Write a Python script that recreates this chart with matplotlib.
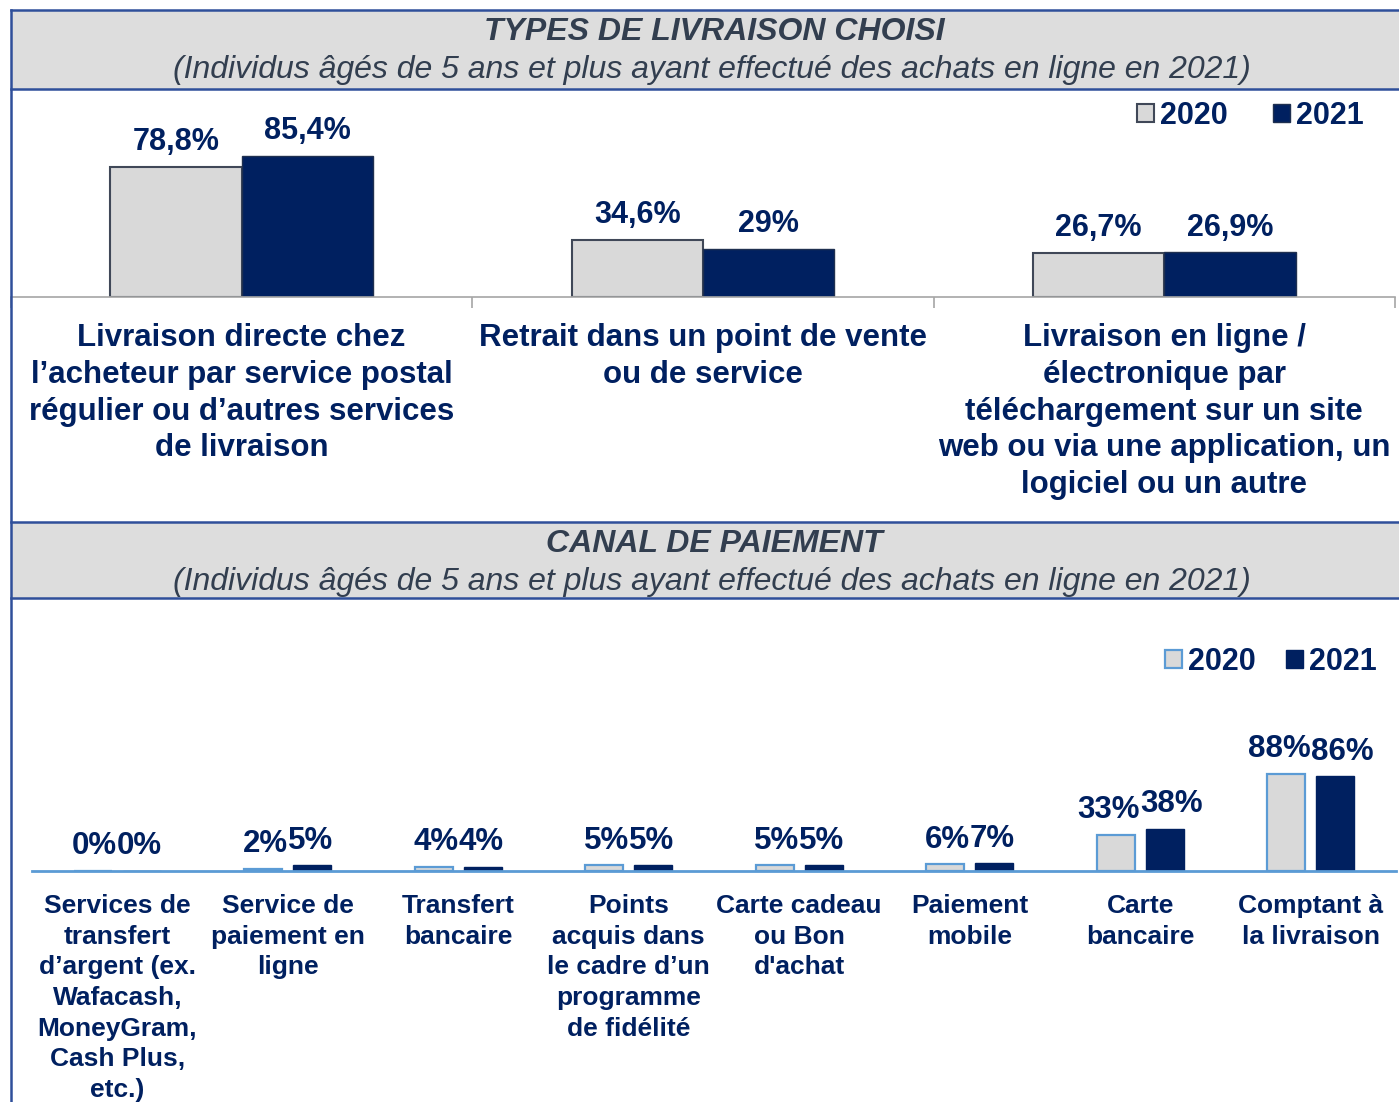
import matplotlib
matplotlib.use("Agg")
import matplotlib.pyplot as plt
from matplotlib.patches import Rectangle
from matplotlib.lines import Line2D
import numpy as np

plt.rcParams['font.family'] = ['Liberation Sans', 'DejaVu Sans']

# ---------------- data ----------------
top_title = "TYPES DE LIVRAISON CHOISI"
bottom_title = "CANAL DE PAIEMENT"
subtitle = "(Individus âgés de 5 ans et plus ayant effectué des achats en ligne en 2021)"
series_names = ["2020", "2021"]

delivery_categories = [
    "Livraison directe chez\nl’acheteur par service postal\nrégulier ou d’autres services\nde livraison",
    "Retrait dans un point de vente\nou de service",
    "Livraison en ligne /\nélectronique par\ntéléchargement sur un site\nweb ou via une application, un\nlogiciel ou un autre",
]
delivery_2020 = [78.8, 34.6, 26.7]
delivery_2021 = [85.4, 29.0, 26.9]

payment_categories = [
    "Services de\ntransfert\nd’argent (ex.\nWafacash,\nMoneyGram,\nCash Plus,\netc.)",
    "Service de\npaiement en\nligne",
    "Transfert\nbancaire",
    "Points\nacquis dans\nle cadre d’un\nprogramme\nde fidélité",
    "Carte cadeau\nou Bon\nd'achat",
    "Paiement\nmobile",
    "Carte\nbancaire",
    "Comptant à\nla livraison",
]
payment_2020 = [0, 2, 4, 5, 5, 6, 33, 88]
payment_2021 = [0, 5, 4, 5, 5, 7, 38, 86]

# ---------------- style ----------------
W, H = 1399, 1102
NAVY = '#002060'
GREY = '#D9D9D9'
HEAD_BG = '#DDDDDD'
HEAD_TXT = '#323E4F'
FRAME = '#2F4F9A'
LBLUE = '#5B9BD5'

def X(x):
    return x / W

def Y(y):
    return 1 - y / H

def fmt(v):
    return f"{v:g}".replace('.', ',') + '%'

fig = plt.figure(figsize=(W / 100, H / 100), dpi=100)
fig.patch.set_facecolor('white')

# header boxes
for (y0, y1, title) in [(10, 89, top_title), (522, 598, bottom_title)]:
    fig.add_artist(Rectangle((X(11), Y(y1)), X(W + 5) - X(11), Y(y0) - Y(y1),
                             transform=fig.transFigure, facecolor=HEAD_BG,
                             edgecolor='none', zorder=0))
    for yy in (y0, y1):
        fig.add_artist(Line2D([X(11), 1.0], [Y(yy), Y(yy)], transform=fig.transFigure,
                              color=FRAME, lw=1.8))
    fig.text(X(714), Y(y0 + 22), title, ha='center', va='center', fontsize=23,
             fontweight='bold', fontstyle='italic', color=HEAD_TXT)
    fig.text(X(712), Y(y0 + 60), subtitle, ha='center', va='center', fontsize=23,
             fontstyle='italic', color=HEAD_TXT)

# left frame line
fig.add_artist(Line2D([X(11), X(11)], [Y(10), 0], transform=fig.transFigure,
                      color=FRAME, lw=1.8))

# ---------------- top chart ----------------
ax1 = fig.add_axes([X(11), Y(297), X(1395) - X(11), Y(90) - Y(297)])
x1 = np.arange(len(delivery_categories))
w1 = 0.285
b20 = ax1.bar(x1 - w1 / 2, delivery_2020, w1, color=GREY, edgecolor='#404858', lw=1.5,
              label=series_names[0], zorder=2)
b21 = ax1.bar(x1 + w1 / 2, delivery_2021, w1, color=NAVY, edgecolor='#1F3050', lw=1.0,
              label=series_names[1], zorder=2)
ax1.set_xlim(-0.5, len(delivery_categories) - 0.5)
ax1.set_ylim(0, 125)
for s in ['top', 'right', 'left']:
    ax1.spines[s].set_visible(False)
ax1.spines['bottom'].set_color('#A6A6A6')
ax1.spines['bottom'].set_linewidth(1.2)
ax1.set_yticks([])
ax1.set_xticks(x1)
ax1.set_xticklabels(delivery_categories, fontsize=22.5, fontweight='bold', color=NAVY,
                    linespacing=1.29, va='top')
ax1.tick_params(axis='x', which='major', length=0, pad=19)
ax1.set_xticks(np.arange(-0.5, len(delivery_categories)), minor=True)
ax1.tick_params(axis='x', which='minor', length=8, color='#A6A6A6', width=1.2)
for bars, vals in [(b20, delivery_2020), (b21, delivery_2021)]:
    for r, v in zip(bars, vals):
        ax1.annotate(fmt(v), (r.get_x() + r.get_width() / 2, v), xytext=(0, 12),
                     textcoords='offset points', ha='center', va='baseline',
                     fontsize=22, fontweight='bold', color=NAVY)
leg1 = ax1.legend(ncol=2, loc='center right', bbox_to_anchor=(X(1364), Y(116)),
                  bbox_transform=fig.transFigure, frameon=False, borderpad=0,
                  borderaxespad=0, handlelength=0.55, handleheight=0.55,
                  handletextpad=0.2, columnspacing=1.5,
                  prop={'size': 22, 'weight': 'bold'})
for t in leg1.get_texts():
    t.set_color(NAVY)

# ---------------- bottom chart ----------------
ax2 = fig.add_axes([X(32), Y(871), X(1396) - X(32), Y(600) - Y(871)])
x2 = np.arange(len(payment_categories))
w2 = 0.223
off = 0.143
c20 = ax2.bar(x2 - off, payment_2020, w2, color=GREY, edgecolor=LBLUE, lw=1.6,
              label=series_names[0], zorder=2)
c21 = ax2.bar(x2 + off, payment_2021, w2, color=NAVY, edgecolor=NAVY, lw=1.0,
              label=series_names[1], zorder=2)
ax2.set_xlim(-0.5, len(payment_categories) - 0.5)
ax2.set_ylim(0, 246)
for s in ['top', 'right', 'left']:
    ax2.spines[s].set_visible(False)
ax2.spines['bottom'].set_color(LBLUE)
ax2.spines['bottom'].set_linewidth(2)
ax2.set_yticks([])
ax2.set_xticks(x2)
ax2.set_xticklabels(payment_categories, fontsize=19, fontweight='bold', color=NAVY,
                    linespacing=1.35, va='top')
ax2.tick_params(axis='x', length=0, pad=16.5)
for xi, v0, v1 in zip(x2, payment_2020, payment_2021):
    ax2.annotate(fmt(v0), (xi, v0), xytext=(0, 12), textcoords='offset points',
                 ha='right', va='baseline', fontsize=22.5, fontweight='bold', color=NAVY)
    ax2.annotate(fmt(v1), (xi, v1), xytext=(0, 12), textcoords='offset points',
                 ha='left', va='baseline', fontsize=22.5, fontweight='bold', color=NAVY)
leg2 = ax2.legend(ncol=2, loc='center right', bbox_to_anchor=(X(1377), Y(662)),
                  bbox_transform=fig.transFigure, frameon=False, borderpad=0,
                  borderaxespad=0, handlelength=0.55, handleheight=0.55,
                  handletextpad=0.2, columnspacing=1.0,
                  prop={'size': 22, 'weight': 'bold'})
for t in leg2.get_texts():
    t.set_color(NAVY)

fig.savefig('out.png', dpi=100)
